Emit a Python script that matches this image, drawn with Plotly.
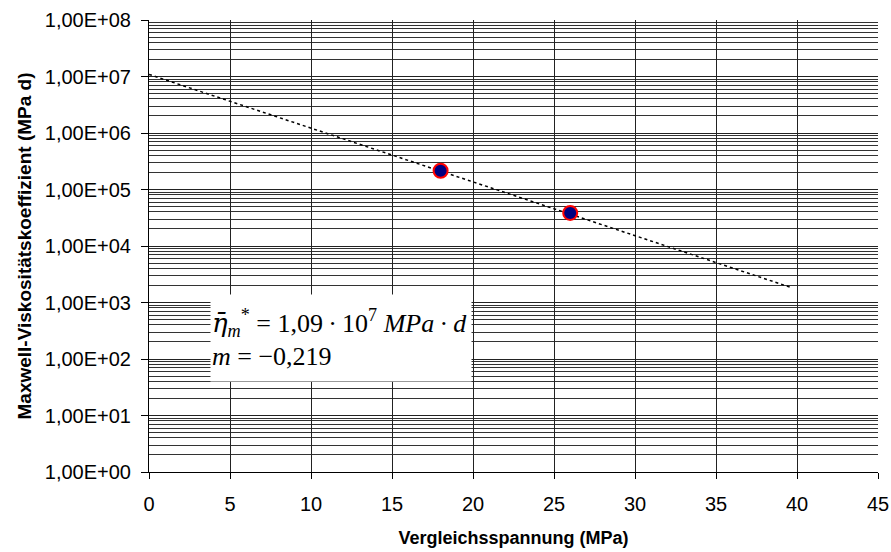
import plotly.graph_objects as go

# Data
points_x = [18, 26]
points_y = [2.15e5, 3.85e4]

trend_x = [0, 39.6]
trend_y = [1.09e7, 1.86e3]

x_ticks = [0, 5, 10, 15, 20, 25, 30, 35, 40, 45]
y_tickvals = [1, 10, 100, 1e3, 1e4, 1e5, 1e6, 1e7, 1e8]
y_ticktext = ["1,00E+00", "1,00E+01", "1,00E+02", "1,00E+03", "1,00E+04",
              "1,00E+05", "1,00E+06", "1,00E+07", "1,00E+08"]

fig = go.Figure()
fig.add_trace(go.Scatter(x=trend_x, y=trend_y, mode="lines",
                         line=dict(color="black", width=1.5, dash="dot"),
                         showlegend=False, hoverinfo="skip"))
fig.add_trace(go.Scatter(x=points_x, y=points_y, mode="markers",
                         marker=dict(size=14, color="#000080",
                                     line=dict(color="#FF0000", width=2)),
                         showlegend=False))

fig.add_annotation(
    xref="paper", yref="paper", x=0.084, y=0.394, xanchor="left", yanchor="top",
    text=("<span style='font-family:DejaVu Serif'><i>η\u0304</i></span><sub><i>m</i></sub><sup>*</sup>"
          " = 1,09\u2009·\u200910<sup>7</sup> <i>MPa</i>\u2009·\u2009<i>d</i>"
          "<br><i>m</i> = −0,219"),
    align="left", showarrow=False, bgcolor="white", width=258, height=84,
    font=dict(family="Liberation Serif", size=26, color="black"),
)

fig.update_layout(
    width=891, height=552,
    margin=dict(l=149, r=13, t=20, b=80),
    paper_bgcolor="white", plot_bgcolor="white",
    font=dict(family="Liberation Sans, Arial", size=20, color="black"),
    xaxis=dict(
        range=[0, 45], tickvals=x_ticks, showgrid=True, gridcolor="#222",
        gridwidth=1, zeroline=False, showline=True, linecolor="black",
        ticks="outside", ticklen=6, tickcolor="black", ticklabelstandoff=8,
        automargin=False,
        title=dict(text="<b>Vergleichsspannung (MPa)</b>", standoff=17,
                   font=dict(size=18)),
    ),
    yaxis=dict(
        type="log", range=[0, 8], tickvals=y_tickvals, ticktext=y_ticktext,
        showgrid=True, gridcolor="#222", gridwidth=1, zeroline=False,
        showline=True, linecolor="black", ticks="outside", ticklen=7,
        tickcolor="black", ticklabelstandoff=6, automargin=False,
        minor=dict(dtick="D1", showgrid=True, gridcolor="#333", gridwidth=1,
                   ticks=""),
        title=dict(text="<b>Maxwell-Viskositätskoeffizient (MPa d)</b>",
                   standoff=8, font=dict(size=19)),
    ),
)

fig.write_html("out.html")
